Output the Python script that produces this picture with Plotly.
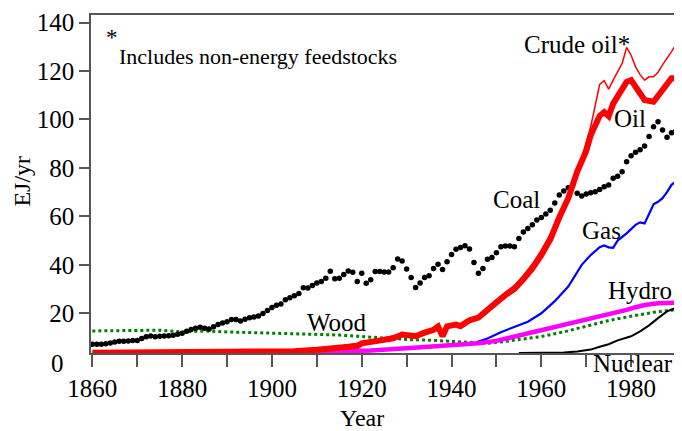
#!/usr/bin/env python3

import plotly.graph_objects as go

# World primary energy by source, EJ/yr
coal_years = list(range(1860, 1991))
coal = [
    7.2, 7.2, 7.2, 7.4, 7.7, 8.1, 8.5, 8.5, 8.6, 8.8,
    8.8, 9.6, 10.3, 10.6, 10.3, 10.5, 10.6, 10.7, 10.9, 11.3,
    11.8, 12.6, 13.3, 13.8, 14.2, 13.8, 13.5, 14.4, 15.4, 16.0,
    16.5, 17.4, 17.4, 16.8, 17.5, 18.2, 18.5, 18.9, 19.9, 21.1,
    22.4, 23.3, 23.8, 25.6, 26.4, 27.2, 28.2, 30.5, 30.4, 31.5,
    32.5, 33.1, 34.4, 37.3, 34.2,
    34.5, 36.0, 37.4, 36.9, 33.1, 36.5, 32.4, 33.8, 37.2, 37.2,
    37.0, 37.0, 38.8, 42.4, 41.6, 38.3, 34.8, 30.6, 32.5, 34.8,
    35.5, 38.5, 40.2, 38.1, 41.3, 44.3, 46.4, 47.1, 47.9, 46.5,
    41.0, 36.5, 38.5, 42.3, 43.0, 45.0, 47.5, 47.8, 47.8, 47.5,
    50.9, 53.5, 55.0, 56.5, 58.5,
    59.5, 61.0, 62.5, 65.5, 68.8, 70.5, 71.8, 73.0, 69.5, 68.4,
    69.2, 69.7, 70.1, 71.1, 72.2, 72.9, 75.7, 76.6, 78.4, 82.5,
    85.0, 86.5, 87.5, 89.0, 93.0, 97.0, 99.0, 95.6, 92.6, 94.5,
    95.3,
]

oil_years = [1860, 1870, 1880, 1890, 1900, 1905, 1910, 1915, 1919, 1920,
             1924, 1927, 1929, 1932, 1934, 1936, 1937, 1938, 1939, 1941,
             1942, 1944, 1946, 1948, 1950, 1952, 1954, 1956, 1958, 1960,
             1962, 1964, 1966, 1968, 1970, 1971, 1973, 1974, 1975, 1976,
             1978, 1979, 1980, 1981, 1982, 1983, 1985, 1986, 1987, 1989, 1990]
oil = [3.7, 3.7, 3.8, 3.8, 4.0, 4.3, 4.9, 5.6, 6.5, 7.6,
       9.0, 9.6, 11.2, 10.5, 12.0, 13.2, 14.5, 10.5, 14.6, 15.3,
       14.7, 17.1, 18.2, 21.6, 24.5, 27.5, 30.0, 34.0, 38.5, 44.0,
       50.5, 59.5, 67.5, 78.5, 87.0, 93.5, 101.5, 103.0, 101.3, 106.5,
       112.7, 115.5, 116.2, 113.5, 110.0, 108.0, 107.3, 109.5, 112.5, 117.0, 117.0]

crude_years = [1860, 1900, 1910, 1920, 1929, 1932, 1936, 1937, 1938, 1939,
               1942, 1944, 1946, 1948, 1950, 1952, 1954, 1956, 1958, 1960,
               1962, 1964, 1966, 1968, 1969, 1971, 1972, 1973, 1974, 1975,
               1976, 1977, 1978, 1979, 1980, 1981, 1982, 1983, 1984, 1985,
               1986, 1987, 1988, 1989, 1990]
crude_oil = [3.7, 4.0, 5.0, 7.8, 11.5, 10.8, 13.5, 14.8, 10.8, 15.0,
             15.0, 17.6, 18.8, 22.3, 25.5, 28.6, 31.5, 35.6, 40.3, 46.0,
             52.7, 61.5, 68.5, 79.5, 84.0, 97.0, 105.5, 114.5, 116.0, 112.5,
             116.2, 119.5, 123.1, 129.7, 126.5, 121.7, 118.5, 116.2, 117.6, 117.6,
             119.5, 122.5, 125.0, 128.0, 131.0]

gas_years = [1885, 1900, 1910, 1920, 1930, 1937, 1945, 1948, 1951, 1954,
             1957, 1960, 1963, 1966, 1969, 1971, 1973, 1974, 1975, 1976,
             1977, 1979, 1981, 1982, 1983, 1984, 1985, 1986, 1987, 1988,
             1989, 1990]
gas = [3.6, 3.8, 4.0, 4.4, 5.3, 6.2, 7.7, 9.6, 12.2, 14.3,
       16.5, 20.0, 25.0, 31.0, 40.0, 44.0, 47.3, 48.0, 47.2, 47.0,
       50.0, 53.0, 56.5, 57.5, 57.1, 61.0, 65.0, 66.0, 67.5, 70.0,
       73.0, 74.5]

hydro_years = [1895, 1905, 1915, 1922, 1930, 1937, 1943, 1946, 1950, 1954,
               1958, 1961, 1965, 1969, 1972, 1975, 1979, 1981, 1983, 1986, 1990]
hydro = [3.6, 3.8, 4.2, 4.6, 5.6, 6.4, 7.2, 7.6, 8.6, 10.3,
         12.0, 13.4, 15.0, 16.7, 18.0, 19.5, 21.4, 22.5, 23.4, 24.1, 24.4]

wood_years = [1860, 1870, 1875, 1880, 1885, 1890, 1895, 1900, 1910, 1915,
              1920, 1925, 1930, 1935, 1940, 1945, 1948, 1952, 1956, 1960,
              1965, 1970, 1975, 1980, 1985, 1990]
wood = [12.7, 12.7, 13.0, 12.3, 12.7, 12.3, 12.1, 11.8, 11.3, 11.0,
        10.4, 9.7, 9.2, 8.9, 8.4, 7.9, 7.6, 8.4, 9.4, 10.4,
        12.3, 14.8, 17.0, 18.8, 20.4, 21.5]

nuclear_years = [1955, 1960, 1965, 1968, 1971, 1973, 1975, 1977, 1979, 1980,
                 1982, 1984, 1986, 1988, 1990]
nuclear = [3.6, 3.6, 3.8, 4.2, 5.0, 6.2, 7.2, 8.8, 9.8, 10.5,
           12.5, 15.0, 18.0, 20.8, 22.2]

y_ticks = [20, 40, 60, 80, 100, 120, 140]
x_ticks = [1860, 1870, 1880, 1890, 1900, 1910, 1920,
           1930, 1940, 1950, 1960, 1970, 1980]
x_labels = ["1860", "", "1880", "", "1900", "", "1920",
            "", "1940", "", "1960", "", "1980"]

FONT = "Liberation Serif"


def build_figure():
    fig = go.Figure()

    fig.add_trace(go.Scatter(x=gas_years, y=gas, mode="lines",
                             line=dict(color="#0000ff", width=2.2)))
    fig.add_trace(go.Scatter(x=wood_years, y=wood, mode="lines",
                             line=dict(color="#008000", width=3, dash="dot")))
    fig.add_trace(go.Scatter(x=hydro_years, y=hydro, mode="lines",
                             line=dict(color="#ff00ff", width=4.5)))
    fig.add_trace(go.Scatter(x=nuclear_years, y=nuclear, mode="lines",
                             line=dict(color="#000000", width=2)))
    fig.add_trace(go.Scatter(x=coal_years, y=coal, mode="markers",
                             marker=dict(color="#000000", size=5.5)))
    fig.add_trace(go.Scatter(x=crude_years, y=crude_oil, mode="lines",
                             line=dict(color="#ff0000", width=1.5)))
    fig.add_trace(go.Scatter(x=oil_years, y=oil, mode="lines",
                             line=dict(color="#ff0000", width=6)))

    # Series labels
    labels = [
        ("Crude oil*", 1968.0, 131.0),
        ("Oil", 1979.7, 100.5),
        ("Coal", 1954.4, 67.0),
        ("Gas", 1973.5, 54.0),
        ("Hydro", 1982.0, 29.5),
        ("Wood", 1914.6, 16.0),
    ]
    for text, x, y in labels:
        fig.add_annotation(x=x, y=y, text=text, showarrow=False,
                           font=dict(family=FONT, size=25, color="black"))

    paper_notes = [
        # text, x, y, xanchor, angle, size
        ("Nuclear", 0.9265, -0.031, "center", 0, 25),
        ("0", -0.043, -0.03, "right", 0, 25),   # zero label sits under the axis line
        ("EJ/yr", -0.118, 0.51, "center", -90, 24),
        ("Year", 0.463, -0.192, "center", 0, 24),
    ]
    for text, x, y, xa, ang, size in paper_notes:
        fig.add_annotation(x=x, y=y, xref="paper", yref="paper",
                           xanchor=xa, yanchor="middle", textangle=ang,
                           text=text, showarrow=False,
                           font=dict(family=FONT, size=size, color="black"))

    fig.add_annotation(x=1864.3, y=134.0, text="*", showarrow=False,
                       font=dict(family=FONT, size=23, color="black"))
    fig.add_annotation(x=1865.4, y=125.8, xanchor="left",
                       text="Includes non-energy feedstocks", showarrow=False,
                       font=dict(family=FONT, size=22, color="black"))

    # page body adds an 8px margin, so the figure is 8px smaller each way
    fig.update_layout(
        width=674, height=423,
        margin=dict(l=83, r=6, t=7, b=78),
        plot_bgcolor="white", paper_bgcolor="white",
        showlegend=False,
        font=dict(family=FONT, size=25, color="black"),
    )

    fig.update_xaxes(
        range=[1859.7, 1990], tickvals=x_ticks, ticktext=x_labels,
        ticks="outside", ticklen=12, tickwidth=1.5, tickcolor="#555",
        ticklabelstandoff=0, automargin=False,
        showline=True, linecolor="#555", linewidth=1.5, mirror=True,
        showgrid=False, zeroline=False,
    )
    fig.update_yaxes(
        range=[3.6, 143.1], tickvals=y_ticks,
        ticks="outside", ticklen=10, tickwidth=1.5, tickcolor="#555",
        automargin=False,
        showline=True, linecolor="#555", linewidth=1.5, mirror=True,
        showgrid=False, zeroline=False,
    )
    return fig


def main():
    fig = build_figure()
    fig.write_html("out.html")


if __name__ == "__main__":
    main()
